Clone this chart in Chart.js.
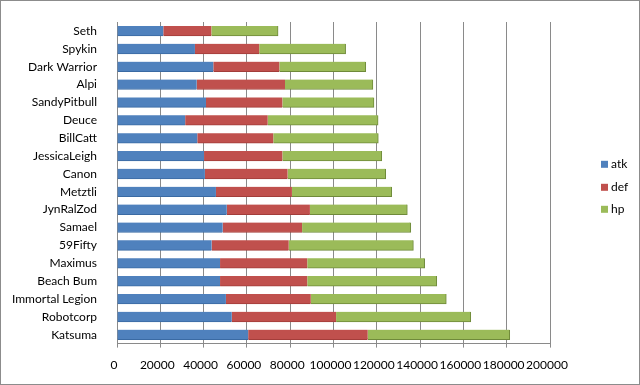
<!DOCTYPE html>
<html><head><meta charset="utf-8">
<script src="https://cdn.jsdelivr.net/npm/chart.js@4"></script>
<style>
html,body{margin:0;padding:0;background:#fff;}
#wrap{position:relative;width:640px;height:385px;box-sizing:border-box;border:1px solid #8c8c8c;}
canvas{display:block;}
</style></head>
<body><div id="wrap"><canvas id="c" width="638" height="383"></canvas></div>
<script>
const categories = ["Seth","Spykin","Dark Warrior","Alpi","SandyPitbull","Deuce","BillCatt","JessicaLeigh","Canon","Metztli","JynRalZod","Samael","59Fifty","Maximus","Beach Bum","Immortal Legion","Robotcorp","Katsuma"];
const atk = [21400,36000,44500,36800,41100,31500,37100,40200,40600,45700,50700,48800,43700,47600,47600,50300,53000,60600];
const def = [22200,29700,30500,40800,35300,38100,35100,36200,38200,35100,38400,36700,35600,40300,40300,39200,48200,55200];
const hp  = [30800,39900,39900,40600,42300,51000,48500,45900,45300,46100,45000,50200,57600,54200,59800,62600,62200,65600];
const xTicks = [0,20000,40000,60000,80000,100000,120000,140000,160000,180000,200000];
const seriesNames = ['atk','def','hp'];
const seriesColors = ['#4F81BD','#C0504D','#9BBB59'];
const seriesEdges = ['#3a6aa3','#a33d3a','#6f8a3a'];

const font = {family:"Lato, 'Open Sans', sans-serif", size:12};
Chart.defaults.font = font;
Chart.defaults.color = "#000";

const sideLegend = {
  id:'sideLegend',
  afterDraw(chart){
    const ctx = chart.ctx;
    const ca = chart.chartArea;
    const x = ca.right + 51;
    const yc = (ca.top + ca.bottom)/2;
    const ys = [yc-18.5, yc+4.5, yc+26.5];
    ctx.save();
    ctx.font = "12px Lato, 'Open Sans', sans-serif";
    ctx.textBaseline = 'middle';
    ctx.textAlign = 'left';
    chart.data.datasets.forEach((ds,i)=>{
      ctx.fillStyle = ds.backgroundColor;
      ctx.fillRect(x, ys[i]-3.5, 7, 7);
      ctx.fillStyle = '#000';
      ctx.fillText(ds.label, x+10, ys[i]);
    });
    ctx.restore();
  }
};

new Chart(document.getElementById('c'), {
  type:'bar',
  data:{
    labels:categories,
    datasets:[
      {label:seriesNames[0], data:atk, backgroundColor:seriesColors[0], borderColor:seriesEdges[0], borderWidth:{top:0,bottom:1,left:0,right:0}},
      {label:seriesNames[1], data:def, backgroundColor:seriesColors[1], borderColor:seriesEdges[1], borderWidth:{top:0,bottom:1,left:0,right:0}},
      {label:seriesNames[2], data:hp,  backgroundColor:seriesColors[2], borderColor:seriesEdges[2], borderWidth:{top:0,bottom:1,left:0,right:1}}
    ]
  },
  options:{
    indexAxis:'y',
    responsive:false,
    animation:false,
    layout:{padding:{top:21,bottom:2,left:8,right:89}},
    datasets:{bar:{barThickness:10}},
    scales:{
      x:{
        stacked:true, min:0, max:200000,
        afterBuildTicks:(s)=>{s.ticks = xTicks.map(v=>({value:v}));},
        ticks:{font:font, color:'#000', padding:10, maxRotation:0, autoSkip:false, labelOffset:-3, callback:(v)=>String(v)},
        grid:{color:'#8a8a8a', lineWidth:1, drawTicks:true, tickLength:4},
        border:{color:'#8a8a8a'}
      },
      y:{
        stacked:true,
        ticks:{font:font, color:'#000', padding:12, autoSkip:false},
        grid:{display:false},
        border:{color:'#8a8a8a'},
        afterFit:(s)=>{s.width = 108;}
      }
    },
    plugins:{
      legend:{display:false},
      tooltip:{enabled:false}
    }
  },
  plugins:[sideLegend]
});
</script></body></html>
